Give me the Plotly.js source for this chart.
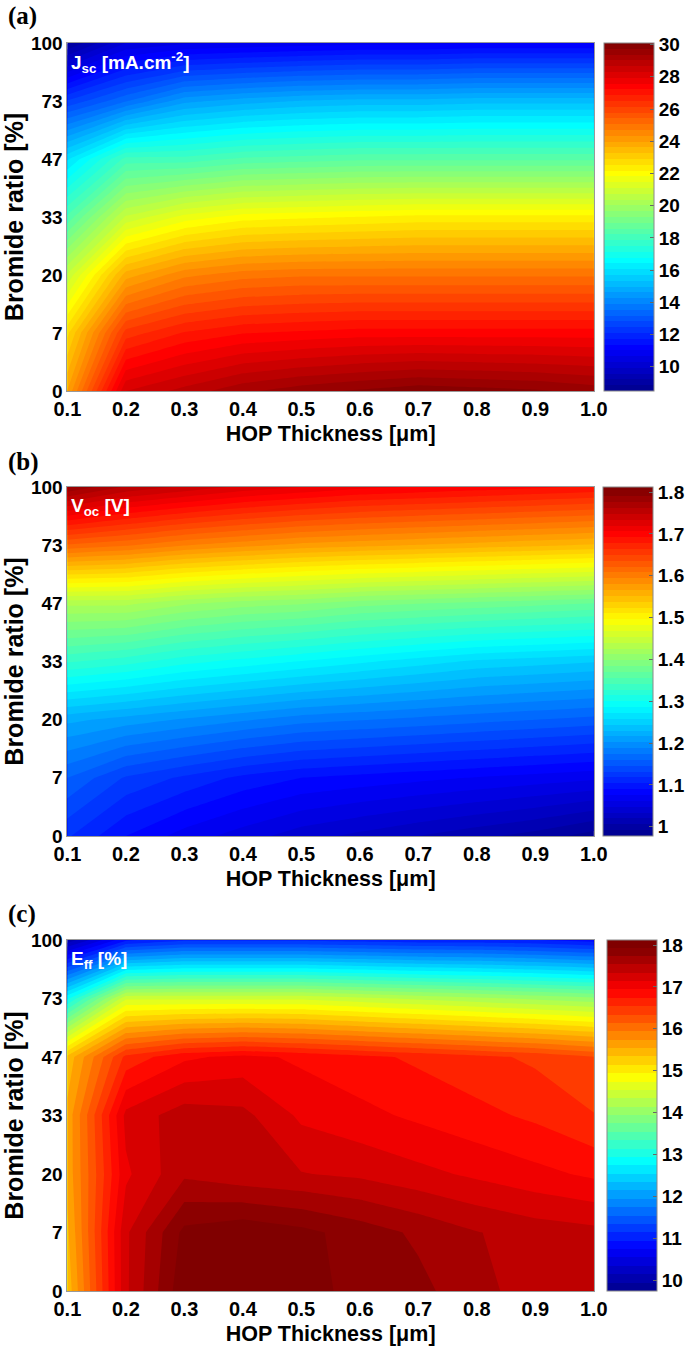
<!DOCTYPE html>
<html>
<head>
<meta charset="utf-8">
<script src="https://cdn.plot.ly/plotly-3.0.1.min.js"></script>
<style>
  html, body { margin: 0; padding: 0; background: #fff; }
  #chart { width: 689px; height: 1350px; }
</style>
</head>
<body>
<div id="chart"></div>
<script>
// ---- data ----
const thickness = [0.1, 0.2, 0.3, 0.4, 0.5, 0.6, 0.7, 0.8, 0.9, 1.0];
const bromideLabels = ['0', '7', '20', '33', '47', '73', '100'];
const bromideIndex = bromideLabels.map((_, i) => i);

// rows: bromide ratio (0 -> 100 %), columns: HOP thickness 0.1 -> 1.0 um
const jsc = [
  [24.0, 28.3, 28.8, 29.3, 29.6, 29.8, 30.0, 29.9, 29.8, 29.6],
  [22.8, 26.3, 26.9, 27.2, 27.3, 27.4, 27.4, 27.4, 27.4, 27.4],
  [20.8, 23.8, 24.6, 24.9, 25.0, 25.0, 25.0, 25.0, 25.0, 25.0],
  [18.3, 20.8, 21.6, 22.0, 22.1, 22.2, 22.3, 22.3, 22.3, 22.3],
  [16.0, 18.0, 18.0, 18.3, 18.4, 18.5, 18.5, 18.5, 18.5, 18.5],
  [12.5, 13.5, 14.5, 14.8, 15.0, 15.1, 15.1, 15.2, 15.2, 15.2],
  [8.8, 10.3, 10.6, 10.7, 10.8, 10.9, 10.9, 11.0, 11.0, 11.0]
];

const voc = [
  [1.12, 1.09, 1.07, 1.055, 1.04, 1.03, 1.02, 1.01, 1.00, 0.985],
  [1.16, 1.13, 1.115, 1.10, 1.09, 1.085, 1.08, 1.075, 1.07, 1.065],
  [1.22, 1.21, 1.20, 1.19, 1.18, 1.175, 1.17, 1.165, 1.16, 1.155],
  [1.33, 1.32, 1.305, 1.295, 1.285, 1.275, 1.265, 1.255, 1.25, 1.245],
  [1.43, 1.43, 1.415, 1.405, 1.40, 1.39, 1.385, 1.38, 1.375, 1.37],
  [1.62, 1.61, 1.595, 1.585, 1.575, 1.57, 1.565, 1.56, 1.555, 1.55],
  [1.79, 1.76, 1.745, 1.73, 1.72, 1.71, 1.705, 1.70, 1.695, 1.69]
];

const eff = [
  [15.4, 17.3, 18.1, 18.1, 18.05, 17.85, 17.8, 17.6, 17.45, 17.4],
  [15.5, 17.3, 18.0, 18.1, 18.0, 17.85, 17.7, 17.55, 17.45, 17.4],
  [15.6, 17.1, 17.5, 17.4, 17.35, 17.3, 17.2, 17.1, 17.0, 16.9],
  [15.6, 17.2, 17.45, 17.4, 17.1, 17.0, 16.9, 16.8, 16.7, 16.55],
  [15.4, 16.6, 16.9, 17.0, 16.9, 16.8, 16.7, 16.6, 16.5, 16.35],
  [12.9, 14.5, 14.5, 14.5, 14.5, 14.4, 14.3, 14.2, 14.1, 14.0],
  [10.0, 10.9, 11.1, 11.1, 11.1, 11.05, 11.0, 11.0, 10.95, 10.85]
];

const jscTicks = [10, 12, 14, 16, 18, 20, 22, 24, 26, 28, 30];
const vocTicks = [1, 1.1, 1.2, 1.3, 1.4, 1.5, 1.6, 1.7, 1.8];
const effTicks = [10, 11, 12, 13, 14, 15, 16, 17, 18];

// ---- styling ----
const W = 689, H = 1350;
const jet = [
  [0, 'rgb(0,0,140)'], [0.125, 'rgb(0,0,255)'], [0.375, 'rgb(0,255,255)'],
  [0.625, 'rgb(255,255,0)'], [0.875, 'rgb(255,0,0)'], [1, 'rgb(128,0,0)']
];
const bold = (size, color) => ({ family: 'Liberation Sans, Arial, sans-serif', size: size, weight: 'bold', color: color || '#000' });

const panels = [
  { z: jsc, zmin: 8.5, zmax: 30.1, size: 0.36, ticks: jscTicks, top: 43, bottom: 391, cbx: 609,
    label: '(a)', labelY: 16, inner: '<b>J<sub>sc</sub> [mA.cm<sup>-2</sup>]</b>' },
  { z: voc, zmin: 0.978, zmax: 1.812, size: 0.014, ticks: vocTicks, top: 487, bottom: 836, cbx: 608,
    label: '(b)', labelY: 462, inner: '<b>V<sub>oc</sub> [V]</b>' },
  { z: eff, zmin: 9.74, zmax: 18.12, size: 0.2, ticks: effTicks, top: 940, bottom: 1291, cbx: 612,
    label: '(c)', labelY: 914, inner: '<b>E<sub>ff</sub> [%]</b>' }
];

const data = [];
const layout = {
  width: W, height: H,
  margin: { l: 0, r: 0, t: 0, b: 0 },
  paper_bgcolor: '#fff', plot_bgcolor: '#fff',
  showlegend: false,
  annotations: []
};

panels.forEach((p, i) => {
  const n = i === 0 ? '' : String(i + 1);
  const yTop = 1 - p.top / H, yBot = 1 - p.bottom / H;
  data.push({
    type: 'contour',
    x: thickness, y: bromideIndex, z: p.z,
    xaxis: 'x' + n, yaxis: 'y' + n,
    colorscale: jet,
    zauto: false, zmin: p.zmin, zmax: p.zmax,
    autocontour: false,
    contours: { start: p.zmin, end: p.zmax, size: p.size, coloring: 'fill', showlines: false },
    line: { width: 0, smoothing: 0 },
    hoverinfo: 'x+y+z',
    colorbar: {
      x: p.cbx / W, xanchor: 'left', y: yTop, yanchor: 'top',
      len: (p.bottom - p.top) / H, lenmode: 'fraction',
      thickness: 50, thicknessmode: 'pixels',
      xpad: 0, ypad: 0,
      outlinewidth: 1, outlinecolor: '#888',
      tickvals: p.ticks, ticktext: p.ticks.map(String),
      ticks: 'inside', ticklen: 4, tickcolor: '#666',
      tickfont: bold(19)
    }
  });
  layout['xaxis' + n] = {
    domain: [68 / W, 599 / W], anchor: 'y' + n,
    range: [0.1, 1.0],
    tickvals: thickness, ticktext: thickness.map(v => v.toFixed(1)),
    tickfont: bold(20),
    ticks: '',
    showline: true, mirror: true, linecolor: '#999', linewidth: 1,
    showgrid: false, zeroline: false,
    title: { text: 'HOP Thickness [μm]', font: bold(21.5), standoff: 6 }
  };
  layout['yaxis' + n] = {
    domain: [yBot, yTop], anchor: 'x' + n,
    range: [0, 6],
    tickvals: bromideIndex, ticktext: bromideLabels,
    tickfont: bold(19),
    ticks: '',
    showline: true, mirror: true, linecolor: '#999', linewidth: 1,
    showgrid: false, zeroline: false,
    title: { text: 'Bromide ratio [%]', font: bold(25), standoff: 2 }
  };
  layout.annotations.push({
    xref: 'paper', yref: 'paper', x: 6 / W, y: 1 - p.labelY / H,
    xanchor: 'left', yanchor: 'middle', showarrow: false,
    text: '<b>' + p.label + '</b>',
    font: { family: 'Liberation Serif, Times New Roman, serif', size: 25, weight: 'bold', color: '#000' }
  });
  layout.annotations.push({
    xref: 'paper', yref: 'paper', x: 70 / W, y: 1 - (p.top + 20) / H,
    xanchor: 'left', yanchor: 'middle', showarrow: false,
    text: p.inner,
    font: bold(19, '#fff')
  });
});

Plotly.newPlot('chart', data, layout, { displayModeBar: false, staticPlot: true });
</script>
</body>
</html>
